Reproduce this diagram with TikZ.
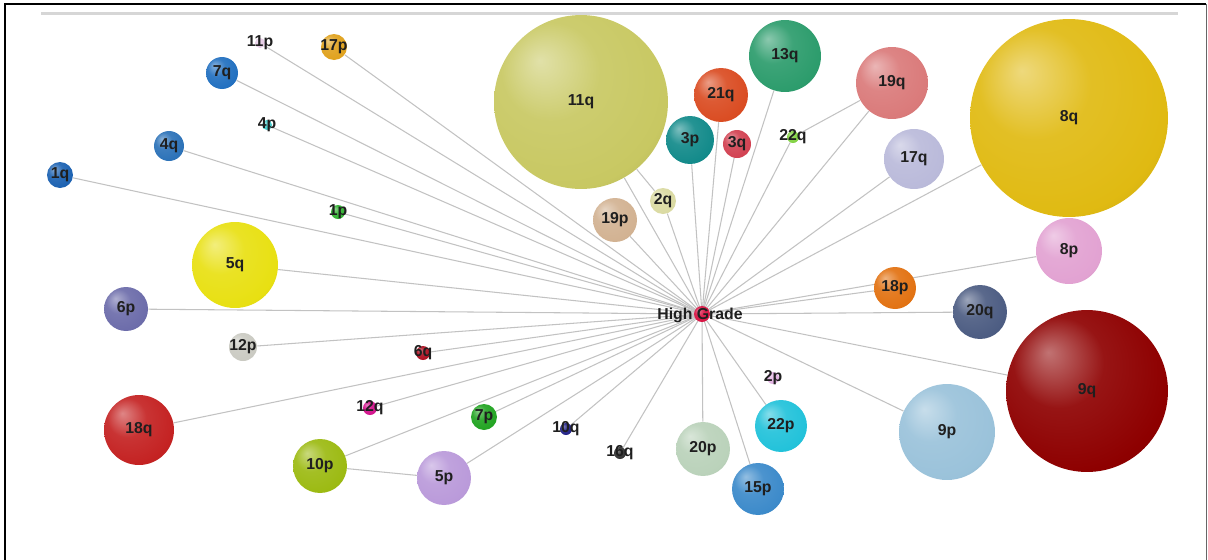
\documentclass[tikz,border=0pt]{standalone}
\usepackage{fontspec}
\setmainfont{Liberation Sans}
\usetikzlibrary{backgrounds}
\colorlet{sphc}{red}
\pgfdeclareradialshading[sphc]{sphere}{\pgfqpoint{-12bp}{12bp}}{color(0bp)=(sphc!55!white); color(14bp)=(sphc!92!white); color(30bp)=(sphc); color(42bp)=(sphc!84!black); color(52bp)=(sphc!76!black)}
\definecolor{c11p}{HTML}{E6CCE6}
\definecolor{c17p}{HTML}{E0A21E}
\definecolor{c7q}{HTML}{2270C0}
\definecolor{c4p}{HTML}{3EC8C8}
\definecolor{c4q}{HTML}{2C72B8}
\definecolor{c1q}{HTML}{1C62B2}
\definecolor{c1p}{HTML}{34B434}
\definecolor{c5q}{HTML}{E8E012}
\definecolor{c6p}{HTML}{6C6CAA}
\definecolor{c12p}{HTML}{CACAC2}
\definecolor{c6q}{HTML}{B01022}
\definecolor{c18q}{HTML}{C42222}
\definecolor{c12q}{HTML}{D2128C}
\definecolor{c10p}{HTML}{9CBA12}
\definecolor{c7p}{HTML}{22A422}
\definecolor{c5p}{HTML}{BA9ADA}
\definecolor{c10q}{HTML}{222288}
\definecolor{c16q}{HTML}{333333}
\definecolor{c20p}{HTML}{BAD2BA}
\definecolor{c15p}{HTML}{3C8ACA}
\definecolor{c22p}{HTML}{22C2DA}
\definecolor{c2p}{HTML}{E2B2E2}
\definecolor{c9p}{HTML}{9AC2DA}
\definecolor{c9q}{HTML}{8E0000}
\definecolor{c20q}{HTML}{4C5C82}
\definecolor{c18p}{HTML}{E27212}
\definecolor{c8p}{HTML}{E2A2D2}
\definecolor{c8q}{HTML}{E0BA12}
\definecolor{c17q}{HTML}{BABADA}
\definecolor{c19q}{HTML}{DA7A7A}
\definecolor{c13q}{HTML}{2C9C6C}
\definecolor{c22q}{HTML}{82D242}
\definecolor{c21q}{HTML}{DA4C22}
\definecolor{c3q}{HTML}{D24252}
\definecolor{c3p}{HTML}{128A8A}
\definecolor{c11q}{HTML}{C8C862}
\definecolor{c2q}{HTML}{DADAA2}
\definecolor{c19p}{HTML}{D2B292}
\definecolor{chub}{HTML}{D81242}
\tikzset{
  ball/.style 2 args={circle, inner sep=0pt, minimum size=#2*0.04cm, /utils/exec={\colorlet{sphc}{#1}}, shade, shading=sphere},
  lbl/.style={font=\bfseries\fontsize{9}{11}\selectfont, text=black!88, inner sep=0pt},
  link/.style={draw=black!24, line width=0.6pt},
}
\begin{document}
\begin{tikzpicture}[x=0.02cm, y=-0.02cm]
\useasboundingbox (0,0) rectangle (1208,559);
% frame
\draw[line width=1.3pt] (5,560) -- (5,4) -- (1206,4);
\draw[line width=0.6pt, black!60] (1206.5,4) -- (1206.5,560);
\draw[line width=1.6pt, black!16] (41,13.5) -- (1178,13.5);
% nodes
\node[ball={chub}{8}] (hub) at (702,314) {};
\node[ball={c11p}{5}] (n11p) at (260,43) {};
\node[ball={c17p}{13}] (n17p) at (334,47) {};
\node[ball={c7q}{16}] (n7q) at (222,73) {};
\node[ball={c4p}{5}] (n4p) at (267,125) {};
\node[ball={c4q}{15}] (n4q) at (169,146) {};
\node[ball={c1q}{13}] (n1q) at (60,175) {};
\node[ball={c1p}{7}] (n1p) at (338,212) {};
\node[ball={c5q}{43}] (n5q) at (235,265) {};
\node[ball={c6p}{22}] (n6p) at (126,309) {};
\node[ball={c12p}{14}] (n12p) at (243,347) {};
\node[ball={c6q}{7}] (n6q) at (423,353) {};
\node[ball={c18q}{35}] (n18q) at (139,430) {};
\node[ball={c12q}{7}] (n12q) at (370,408) {};
\node[ball={c10p}{27}] (n10p) at (320,466) {};
\node[ball={c7p}{13}] (n7p) at (484,417) {};
\node[ball={c5p}{27}] (n5p) at (444,478) {};
\node[ball={c10q}{6}] (n10q) at (566,429) {};
\node[ball={c16q}{6}] (n16q) at (620,453) {};
\node[ball={c20p}{27}] (n20p) at (703,449) {};
\node[ball={c15p}{26}] (n15p) at (758,489) {};
\node[ball={c22p}{26}] (n22p) at (781,426) {};
\node[ball={c2p}{6}] (n2p) at (773,378) {};
\node[ball={c9p}{48}] (n9p) at (947,432) {};
\node[ball={c9q}{81}] (n9q) at (1087,391) {};
\node[ball={c20q}{27}] (n20q) at (980,312) {};
\node[ball={c18p}{21}] (n18p) at (895,288) {};
\node[ball={c8p}{33}] (n8p) at (1069,251) {};
\node[ball={c8q}{99}] (n8q) at (1069,118) {};
\node[ball={c17q}{30}] (n17q) at (914,159) {};
\node[ball={c19q}{36}] (n19q) at (892,83) {};
\node[ball={c13q}{36}] (n13q) at (785,56) {};
\node[ball={c22q}{6}] (n22q) at (793,137) {};
\node[ball={c21q}{27}] (n21q) at (721,95) {};
\node[ball={c3q}{14}] (n3q) at (737,144) {};
\node[ball={c3p}{24}] (n3p) at (690,140) {};
\node[ball={c11q}{87}] (n11q) at (581,102) {};
\node[ball={c2q}{13}] (n2q) at (663,201) {};
\node[ball={c19p}{22}] (n19p) at (615,220) {};
% connectors
\begin{pgfonlayer}{background}
\foreach \n in {n11p,n17p,n7q,n4p,n4q,n1q,n1p,n5q,n6p,n12p,n6q,n18q,n12q,n10p,n7p,n5p,n10q,n16q,n20p,n15p,n22p,n9p,n9q,n20q,n18p,n8p,n8q,n17q,n19q,n13q,n22q,n21q,n3q,n3p,n11q,n2q,n19p}
  \draw[link] (hub.center) -- (\n);
\draw[link] (n10p) -- (n5p);
\draw[link] (n11q) -- (n2q);
\draw[link] (n22q) -- (n19q);
\end{pgfonlayer}
% labels
\node[lbl] (lhub) at (700,315) {High Grade};
\node[lbl] (l11p) at (n11p) {11p};
\node[lbl] (l17p) at (n17p) {17p};
\node[lbl] (l7q) at (n7q) {7q};
\node[lbl] (l4p) at (n4p) {4p};
\node[lbl] (l4q) at (n4q) {4q};
\node[lbl] (l1q) at (n1q) {1q};
\node[lbl] (l1p) at (n1p) {1p};
\node[lbl] (l5q) at (n5q) {5q};
\node[lbl] (l6p) at (n6p) {6p};
\node[lbl] (l12p) at (n12p) {12p};
\node[lbl] (l6q) at (n6q) {6q};
\node[lbl] (l18q) at (n18q) {18q};
\node[lbl] (l12q) at (n12q) {12q};
\node[lbl] (l10p) at (n10p) {10p};
\node[lbl] (l7p) at (n7p) {7p};
\node[lbl] (l5p) at (n5p) {5p};
\node[lbl] (l10q) at (n10q) {10q};
\node[lbl] (l16q) at (n16q) {16q};
\node[lbl] (l20p) at (n20p) {20p};
\node[lbl] (l15p) at (n15p) {15p};
\node[lbl] (l22p) at (n22p) {22p};
\node[lbl] (l2p) at (n2p) {2p};
\node[lbl] (l9p) at (n9p) {9p};
\node[lbl] (l9q) at (n9q) {9q};
\node[lbl] (l20q) at (n20q) {20q};
\node[lbl] (l18p) at (n18p) {18p};
\node[lbl] (l8p) at (n8p) {8p};
\node[lbl] (l8q) at (n8q) {8q};
\node[lbl] (l17q) at (n17q) {17q};
\node[lbl] (l19q) at (n19q) {19q};
\node[lbl] (l13q) at (n13q) {13q};
\node[lbl] (l22q) at (n22q) {22q};
\node[lbl] (l21q) at (n21q) {21q};
\node[lbl] (l3q) at (n3q) {3q};
\node[lbl] (l3p) at (n3p) {3p};
\node[lbl] (l11q) at (n11q) {11q};
\node[lbl] (l2q) at (n2q) {2q};
\node[lbl] (l19p) at (n19p) {19p};
\end{tikzpicture}
\end{document}
